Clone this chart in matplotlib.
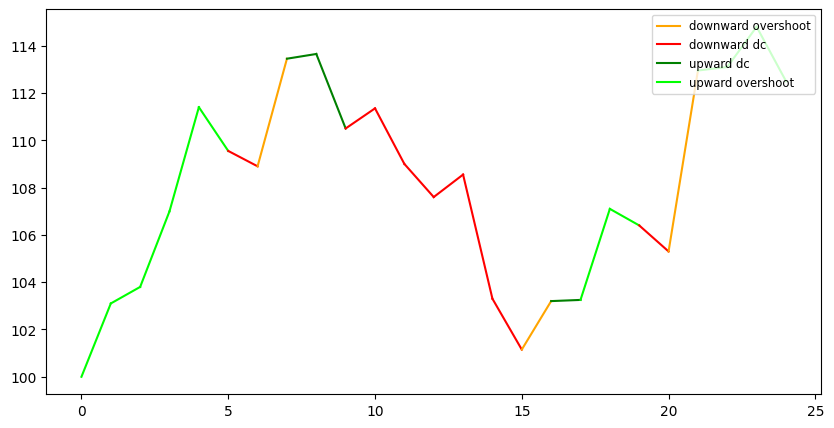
import matplotlib.pyplot as plt
from matplotlib.lines import Line2D

# precio por paso
precios = [100.0, 103.1, 103.8, 107.0, 111.4, 109.55, 108.9, 113.45, 113.65, 110.5,
           111.35, 109.0, 107.6, 108.55, 103.3, 101.15, 103.2, 103.25, 107.1, 106.4,
           105.3, 112.95, 113.1, 114.8, 112.5]

# evento de cada tramo (tramo i va de i a i+1)
eventos = (['upward overshoot'] * 5 + ['downward dc', 'downward overshoot']
           + ['upward dc'] * 2 + ['downward dc'] * 6 + ['downward overshoot', 'upward dc']
           + ['upward overshoot'] * 2 + ['downward dc', 'downward overshoot']
           + ['upward overshoot'] * 3)

colores = {
    'downward overshoot': 'orange',
    'downward dc': 'red',
    'upward dc': 'green',
    'upward overshoot': 'lime',
}

fig, ax = plt.subplots(figsize=(10, 5))
for i, ev in enumerate(eventos):
    ax.plot([i, i + 1], [precios[i], precios[i + 1]], color=colores[ev])

handles = [Line2D([0], [0], color=c, label=k) for k, c in colores.items()]
ax.legend(handles=handles, loc='upper right', fontsize='small')

plt.savefig('out.png', dpi=100, bbox_inches='tight')
plt.close()
